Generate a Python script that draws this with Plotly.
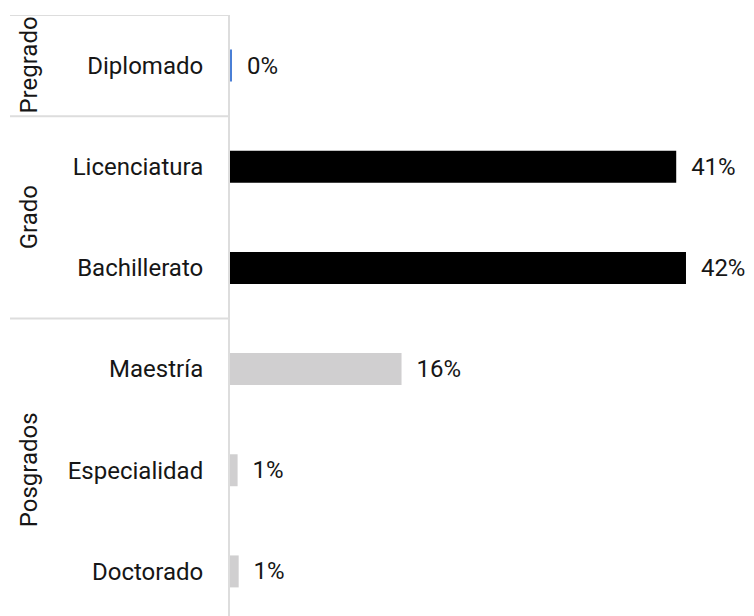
import plotly.graph_objects as go

levels = ["Diplomado", "Licenciatura", "Bachillerato", "Maestría", "Especialidad", "Doctorado"]
values = [0.1, 41.1, 42.0, 15.8, 0.7, 0.8]
labels = ["0%", "41%", "42%", "16%", "1%", "1%"]
colors = ["#4a7fd6", "#000000", "#000000", "#d0cfd0", "#d0cfd0", "#d0cfd0"]

group_names = ["Pregrado", "Grado", "Posgrados"]
group_centers = [0, 1.5, 4]          # category index of group centre
group_bounds = [-0.5, 0.5, 2.5]      # category-index positions of dividers

font_family = "Roboto, Noto Sans, sans-serif"
txt_color = "#161616"
line_color = "#dddddd"

L = 222
W = 754
plot_w = W - L

fig = go.Figure(go.Bar(
    x=values,
    y=levels,
    orientation="h",
    marker=dict(color=colors, line=dict(width=0)),
    text=["\u00a0\u00a0" + t for t in labels],
    textposition="outside",
    textfont=dict(size=24, color=txt_color, family=font_family),
    cliponaxis=False,
    hoverinfo="skip",
))

div_x0 = (2 - L) / plot_w
grp_x = (21 - L) / plot_w

for b in group_bounds:
    fig.add_shape(type="line", xref="paper", yref="y",
                  x0=div_x0, x1=0, y0=b, y1=b,
                  line=dict(color=line_color, width=2), layer="below")

for name, c in zip(group_names, group_centers):
    fig.add_annotation(text=name, xref="paper", yref="y", x=grp_x, y=c,
                       textangle=-90, showarrow=False, xanchor="center", yanchor="middle",
                       font=dict(size=24, color=txt_color, family=font_family))

fig.update_layout(
    width=W, height=616,
    margin=dict(l=L, r=0, t=7, b=2),
    paper_bgcolor="white",
    plot_bgcolor="white",
    bargap=0.684,
    showlegend=False,
    font=dict(family=font_family, size=24, color=txt_color),
    xaxis=dict(visible=False, range=[0, plot_w / 10.857], fixedrange=True),
    yaxis=dict(
        type="category",
        range=[5.5, -0.5],
        automargin=False,
        showline=True, linecolor=line_color, linewidth=2,
        showgrid=False, zeroline=False,
        ticks="", ticklabelstandoff=20,
        tickfont=dict(size=24, color=txt_color, family=font_family),
    ),
)

fig.write_html("out.html")
